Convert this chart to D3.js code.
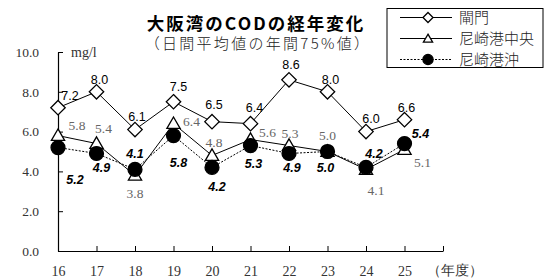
<!DOCTYPE html>
<html>
<head>
<meta charset="utf-8">
<script src="https://cdn.jsdelivr.net/npm/d3@7"></script>
<style>
  body { margin: 0; background: #fff; }
  svg { display: block; }
</style>
</head>
<body>
<svg id="chart" width="545" height="280"></svg>
<script>
// data
var years = [16, 17, 18, 19, 20, 21, 22, 23, 24, 25];
var seriesNames = ['閘門', '尼崎港中央', '尼崎港沖'];
var koumon = [7.2, 8.0, 6.1, 7.5, 6.5, 6.4, 8.6, 8.0, 6.0, 6.6];
var chuo = [5.8, 5.4, 3.8, 6.4, 4.8, 5.6, 5.3, 5.0, 4.1, 5.1];
var oki = [5.2, 4.9, 4.1, 5.8, 4.2, 5.3, 4.9, 5.0, 4.2, 5.4];
var yTicks = [0, 2, 4, 6, 8, 10];

// label offsets (dx, dy from the point, to the label centre)
var koumonOff = [[12, -12], [3, -12], [2, -13], [5, -15], [2, -17], [4, -16], [2, -15], [3, -12], [5, -13], [2, -12]];
var chuoOff = [[19, -10], [7, -15], [0, 18], [18, -2], [2, -13], [17, -7], [1, -12], [0, -16], [10, 21], [18, 13]];
var okiOff = [[17, 32], [5, 14], [0, -16], [5, 27], [5, 19], [3, 18], [3, 14], [-2, 16], [8, -14], [16, -10]];

var svg = d3.select('#chart');

var x = d3.scaleLinear().domain([16, 26]).range([58, 443]);
var y = d3.scaleLinear().domain([0, 10]).range([251, 52]);

var serif = '"Liberation Serif", "DejaVu Serif", serif';
var sans = '"Liberation Sans", Arial, sans-serif';
var jp = '"Noto Sans CJK JP", sans-serif';

// axes
var yAxis = svg.append('g')
    .attr('transform', 'translate(58,0)')
    .call(d3.axisLeft(y).tickValues(yTicks).tickSize(-5).tickSizeOuter(0)
        .tickPadding(19).tickFormat(d3.format('.1f')));

var xAxis = svg.append('g')
    .attr('transform', 'translate(0,251)')
    .call(d3.axisBottom(x).tickValues(d3.range(16, 27)).tickSize(-5).tickSizeOuter(0)
        .tickPadding(15).tickFormat(function(d) { return d < 26 ? d : ''; }));

[yAxis, xAxis].forEach(function(g) {
    g.select('.domain').attr('stroke', '#000').attr('stroke-width', 1.2);
    g.selectAll('.tick line').attr('stroke', '#000');
    g.selectAll('.tick text')
        .style('font-family', serif)
        .style('font-size', '13.5px')
        .attr('fill', '#333');
});
xAxis.selectAll('.tick text').style('font-size', '14px');

svg.append('text')
    .attr('x', 427).attr('y', 275)
    .style('font-family', serif).style('font-size', '14px').attr('fill', '#333')
    .text('（年度）');

svg.append('text')
    .attr('x', 71).attr('y', 56.5)
    .style('font-family', serif).style('font-size', '14px').attr('fill', '#333')
    .text('mg/l');

// titles
svg.append('text')
    .attr('x', 256).attr('y', 30)
    .attr('text-anchor', 'middle')
    .style('font-family', jp).style('font-size', '17.5px').style('font-weight', 'bold')
    .style('letter-spacing', '2px')
    .text('大阪湾のCODの経年変化');

svg.append('text')
    .attr('x', 258).attr('y', 49)
    .attr('text-anchor', 'middle')
    .style('font-family', jp).style('font-size', '15px').style('font-weight', 300)
    .style('letter-spacing', '2.3px')
    .attr('fill', '#222')
    .text('（日間平均値の年間75%値）');

// series
var series = [
    {name: seriesNames[0], values: koumon, off: koumonOff, dash: null, marker: 'diamond'},
    {name: seriesNames[1], values: chuo, off: chuoOff, dash: null, marker: 'triangle'},
    {name: seriesNames[2], values: oki, off: okiOff, dash: '2,1.5', marker: 'circle'}
];

function markerPath(type, s) {
    if(type === 'diamond') return d3.symbol(d3.symbolDiamond2, s * s * 1.0)();
    if(type === 'triangle') return d3.symbol(d3.symbolTriangle2, s * s * 0.95)();
    return d3.symbol(d3.symbolCircle, s * s * 0.9)();
}

function drawMarker(g, type, px, py, s) {
    g.append('path')
        .attr('d', markerPath(type, s))
        .attr('transform', 'translate(' + px + ',' + py + ')' + (type === 'triangle' ? ' translate(0,1)' : ''))
        .attr('fill', type === 'circle' ? '#000' : '#fff')
        .attr('stroke', '#000')
        .attr('stroke-width', 1.3);
}

var line = d3.line()
    .x(function(d, i) { return x(years[i]); })
    .y(function(d) { return y(d); });

series.forEach(function(s) {
    svg.append('path')
        .datum(s.values)
        .attr('d', line)
        .attr('fill', 'none')
        .attr('stroke', '#000')
        .attr('stroke-width', 1)
        .attr('stroke-dasharray', s.dash);
});

series.forEach(function(s) {
    var g = svg.append('g');
    s.values.forEach(function(v, i) {
        drawMarker(g, s.marker, x(years[i]), y(v), s.marker === 'circle' ? 13 : 11.5);
    });
});

// data labels
var labelStyle = {
    diamond: {font: sans, size: '12.5px', weight: 'normal', italic: false, fill: '#000'},
    triangle: {font: serif, size: '13.5px', weight: 'normal', italic: false, fill: '#666'},
    circle: {font: sans, size: '12.5px', weight: 'bold', italic: true, fill: '#000'}
};

series.forEach(function(s) {
    var st = labelStyle[s.marker];
    svg.append('g').selectAll('text')
        .data(s.values)
        .enter().append('text')
        .attr('x', function(d, i) { return x(years[i]) + s.off[i][0]; })
        .attr('y', function(d, i) { return y(d) + s.off[i][1]; })
        .attr('dy', '0.35em')
        .attr('text-anchor', 'middle')
        .style('font-family', st.font)
        .style('font-size', st.size)
        .style('font-weight', st.weight)
        .style('font-style', st.italic ? 'italic' : 'normal')
        .attr('fill', st.fill)
        .text(function(d) { return d3.format('.1f')(d); });
});

// legend
var legend = svg.append('g');
legend.append('rect')
    .attr('x', 387).attr('y', 8.5).attr('width', 156).attr('height', 59)
    .attr('fill', '#fff').attr('stroke', '#000').attr('stroke-width', 1);

series.forEach(function(s, i) {
    var ly = 17.5 + i * 21;
    legend.append('line')
        .attr('x1', 400).attr('x2', 452).attr('y1', ly).attr('y2', ly)
        .attr('stroke', '#000').attr('stroke-width', 1)
        .attr('stroke-dasharray', s.dash);
    drawMarker(legend, s.marker, 428, ly, s.marker === 'circle' ? 9.5 : 8);
    legend.append('text')
        .attr('x', 459).attr('y', ly).attr('dy', '0.36em')
        .style('font-family', jp).style('font-size', '15px').style('font-weight', 300)
        .attr('fill', '#222')
        .text(s.name);
});
</script>
</body>
</html>
